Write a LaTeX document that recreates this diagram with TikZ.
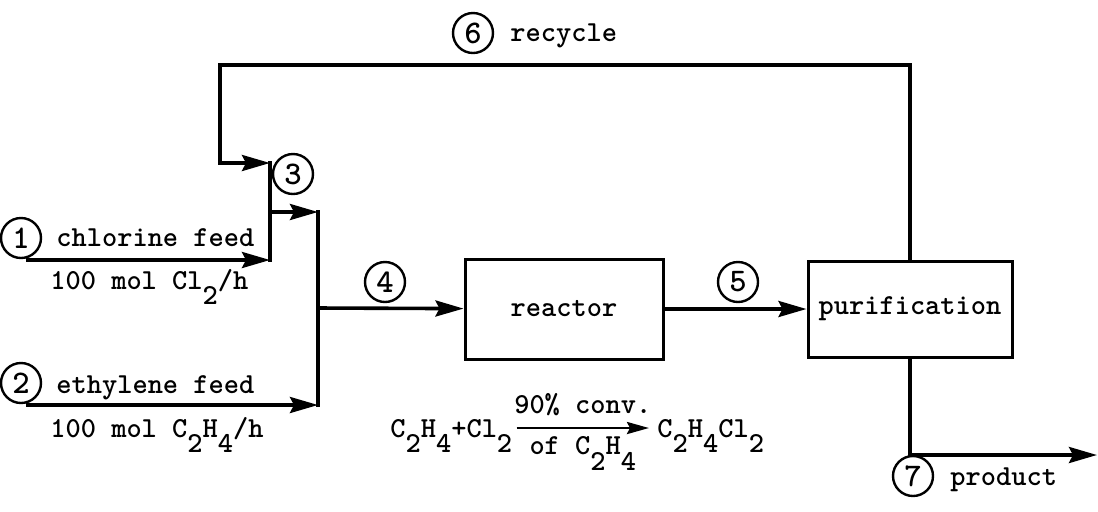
\documentclass[tikz,border=0pt]{standalone}
\usepackage{fontspec}
\usetikzlibrary{arrows.meta, positioning}
\newcommand{\lo}[1]{\raisebox{-0.55em}{#1}}
\tikzset{
  unit/.style={draw, line width=1.5pt, align=center},
  num/.style={draw, circle, line width=1.2pt, minimum size=20pt, inner sep=0pt,
    font=\ttfamily\bfseries\fontsize{16.5}{18}\selectfont},
  flow/.style={-{Stealth[length=14pt, width=8pt, inset=2pt]}, line width=1.8pt},
  bar/.style={line width=1.8pt, line cap=rect},
  rxn/.style={-{Stealth[length=11pt, width=6pt, inset=1.5pt]}, line width=1.4pt},
  txt/.style={anchor=base west, inner sep=0pt},
  every node/.style={font=\ttfamily\bfseries\fontsize{14.5}{17}\selectfont}
}
\begin{document}
\begin{tikzpicture}[x=0.5pt, y=-0.5pt]
  \useasboundingbox (0,0) rectangle (1098,511);
  % units
  \node[unit, minimum width=99pt, minimum height=50pt] (reactor) at (564,309) {reactor};
  \node[unit, minimum width=102pt, minimum height=48pt] (purif) at (910,309) {purification};

  % mixing points and stream ends
  \coordinate (m1t) at (270,163); \coordinate (m1m) at (270,212); \coordinate (m1b) at (270,260);
  \coordinate (m2t) at (318,212); \coordinate (m2m) at (318,308); \coordinate (m2b) at (318,405);
  \coordinate (f1) at (26,260); \coordinate (f2) at (26,405);
  \coordinate (rtop) at (220,65); \coordinate (pend) at (1097,455);

  \draw[bar] (m1t) -- (m1b);
  \draw[bar] (m2t) -- (m2b);
  \draw[flow] (f1) -- (m1b);
  \draw[flow] (f2) -- (m2b);
  \draw[flow] (m1m) -- (m2t);
  \draw[flow] (m2m) -- (reactor);
  \draw[flow] (reactor) -- (purif);
  \draw[flow] (purif.north) |- (rtop) |- (m1t);
  \draw[flow] (purif.south) |- (pend);

  % stream numbers
  \node[num] (s1) at (21,238) {1};
  \node[num] (s2) at (21,383) {2};
  \node[num] (s3) at (293,174) {3};
  \node[num] (s4) at (385,282) {4};
  \node[num] (s5) at (738,282) {5};
  \node[num] (s6) at (473,33) {6};
  \node[num] (s7) at (913,476) {7};

  \node[txt] (t1) at (56,246) {chlorine feed};
  \node[txt] (q1) at (50,289) {100 mol Cl\lo{2}/h};
  \node[txt] (t2) at (56,393) {ethylene feed};
  \node[txt] (q2) at (50,437) {100 mol C\lo{2}H\lo{4}/h};
  \node[txt] (t6) at (510,41) {recycle};
  \node[txt] (t7) at (950,485) {product};

  % reaction
  \node[txt] (lhs) at (390,437) {C\lo{2}H\lo{4}+Cl\lo{2}};
  \node[txt] (rhs) at (657,437) {C\lo{2}H\lo{4}Cl\lo{2}};
  \draw[rxn] ([xshift=2pt]lhs.east |- 0,428) -- ([xshift=-4pt]rhs.west |- 0,428)
    node[midway, above=2pt] {90\% conv.}
    node[midway, below=0pt] {of C\lo{2}H\lo{4}};
\end{tikzpicture}
\end{document}
